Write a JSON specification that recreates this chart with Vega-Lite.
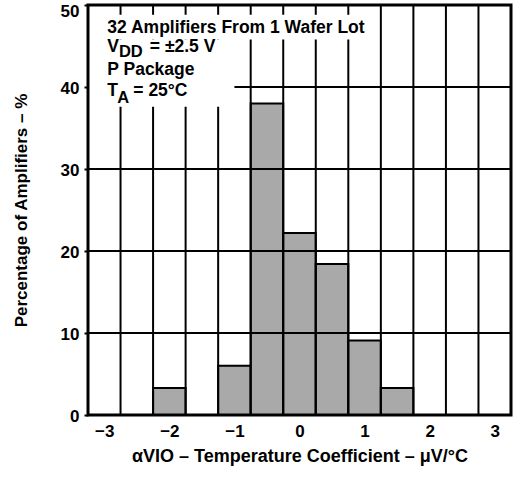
{
  "$schema": "https://vega.github.io/schema/vega-lite/v6.json",
  "width": 423,
  "height": 410,
  "autosize": {"type": "none"},
  "padding": {"left": 88, "top": 5, "right": 2, "bottom": 63},
  "background": "white",
  "config": {
    "view": {"stroke": null},
    "font": "Liberation Sans",
    "axis": {
      "labelFont": "Liberation Sans",
      "labelFontWeight": "bold",
      "labelFontSize": 17,
      "labelColor": "black",
      "titleFont": "Liberation Sans",
      "titleFontWeight": "bold",
      "titleFontSize": 17,
      "titleColor": "black",
      "tickColor": "black",
      "tickWidth": 2,
      "domain": false
    }
  },
  "layer": [
    {
      "data": {"values": [
        {"lo": -2.25, "hi": -1.75, "pct": 3.3},
        {"lo": -1.25, "hi": -0.75, "pct": 6.0},
        {"lo": -0.75, "hi": -0.25, "pct": 38.0},
        {"lo": -0.25, "hi": 0.25, "pct": 22.2},
        {"lo": 0.25, "hi": 0.75, "pct": 18.4},
        {"lo": 0.75, "hi": 1.25, "pct": 9.1},
        {"lo": 1.25, "hi": 1.75, "pct": 3.3}
      ]},
      "mark": {"type": "rect", "fill": "#a9a9a9", "stroke": "#000000", "strokeWidth": 2},
      "encoding": {
        "x": {"field": "lo", "type": "quantitative",
              "scale": {"domain": [-3.25, 3.25], "nice": false, "zero": false},
              "axis": {"orient": "bottom", "values": [-3, -2, -1, 0, 1, 2, 3], "format": "d", "grid": false, "ticks": false, "tickSize": 0, "labelPadding": 8,
                       "title": "αVIO – Temperature Coefficient – μV/°C", "titlePadding": 8, "titleFontSize": 18}},
        "x2": {"field": "hi"},
        "y": {"field": "pct", "type": "quantitative",
              "scale": {"domain": [0, 50], "nice": false},
              "axis": {"orient": "left", "values": [0, 10, 20, 30, 40, 50], "format": "d", "grid": false, "tickSize": 4, "labelPadding": 5,
                       "labelOffset": {"condition": {"test": "datum.value === 50", "value": 6}, "value": 1},
                       "title": "Percentage of Amplifiers – %", "titlePadding": 30}},
        "y2": {"datum": 0}
      }
    },
    {
      "data": {"values": [{"level": 10}, {"level": 20}, {"level": 30}, {"level": 40}]},
      "mark": {"type": "rule", "stroke": "#000000", "strokeWidth": 2},
      "encoding": {
        "y": {"field": "level", "type": "quantitative"}
      }
    },
    {
      "data": {"values": [{"edge": -2.75}, {"edge": -2.25}, {"edge": -1.75}, {"edge": -1.25}, {"edge": -0.75}, {"edge": -0.25}, {"edge": 0.25}, {"edge": 0.75}, {"edge": 1.25}, {"edge": 1.75}, {"edge": 2.25}, {"edge": 2.75}]},
      "mark": {"type": "rule", "stroke": "#000000", "strokeWidth": 2},
      "encoding": {
        "x": {"field": "edge", "type": "quantitative"}
      }
    },
    {
      "data": {"values": [{}]},
      "mark": {"type": "rect", "fill": "white", "strokeWidth": 0},
      "encoding": {
        "x": {"datum": -3.24, "type": "quantitative"},
        "x2": {"datum": 1.0},
        "y": {"datum": 45.8, "type": "quantitative"},
        "y2": {"datum": 48.8}
      }
    },
    {
      "data": {"values": [{}]},
      "mark": {"type": "rect", "fill": "white", "strokeWidth": 0},
      "encoding": {
        "x": {"datum": -3.24, "type": "quantitative"},
        "x2": {"datum": -1.0},
        "y": {"datum": 37.6, "type": "quantitative"},
        "y2": {"datum": 45.8}
      }
    },
    {
      "data": {"values": [{}]},
      "mark": {"type": "text", "text": "32 Amplifiers From 1 Wafer Lot", "align": "left", "baseline": "alphabetic", "font": "Liberation Sans", "fontWeight": "bold", "fontSize": 17.5, "color": "black"},
      "encoding": {"x": {"datum": -2.954, "type": "quantitative"}, "y": {"datum": 46.6, "type": "quantitative"}}
    },
    {
      "data": {"values": [{}]},
      "mark": {"type": "text", "text": "V", "align": "left", "baseline": "alphabetic", "font": "Liberation Sans", "fontWeight": "bold", "fontSize": 17.5, "color": "black"},
      "encoding": {"x": {"datum": -2.954, "type": "quantitative"}, "y": {"datum": 44.3, "type": "quantitative"}}
    },
    {
      "data": {"values": [{}]},
      "mark": {"type": "text", "text": "DD", "align": "left", "baseline": "alphabetic", "font": "Liberation Sans", "fontWeight": "bold", "fontSize": 16.5, "color": "black"},
      "encoding": {"x": {"datum": -2.775, "type": "quantitative"}, "y": {"datum": 43.7, "type": "quantitative"}}
    },
    {
      "data": {"values": [{}]},
      "mark": {"type": "text", "text": "= ±2.5 V", "align": "left", "baseline": "alphabetic", "font": "Liberation Sans", "fontWeight": "bold", "fontSize": 17.5, "color": "black"},
      "encoding": {"x": {"datum": -2.30, "type": "quantitative"}, "y": {"datum": 44.3, "type": "quantitative"}}
    },
    {
      "data": {"values": [{}]},
      "mark": {"type": "text", "text": "P Package", "align": "left", "baseline": "alphabetic", "font": "Liberation Sans", "fontWeight": "bold", "fontSize": 17.5, "color": "black"},
      "encoding": {"x": {"datum": -2.954, "type": "quantitative"}, "y": {"datum": 41.5, "type": "quantitative"}}
    },
    {
      "data": {"values": [{}]},
      "mark": {"type": "text", "text": "T", "align": "left", "baseline": "alphabetic", "font": "Liberation Sans", "fontWeight": "bold", "fontSize": 17.5, "color": "black"},
      "encoding": {"x": {"datum": -2.954, "type": "quantitative"}, "y": {"datum": 38.9, "type": "quantitative"}}
    },
    {
      "data": {"values": [{}]},
      "mark": {"type": "text", "text": "A", "align": "left", "baseline": "alphabetic", "font": "Liberation Sans", "fontWeight": "bold", "fontSize": 16.5, "color": "black"},
      "encoding": {"x": {"datum": -2.80, "type": "quantitative"}, "y": {"datum": 38.1, "type": "quantitative"}}
    },
    {
      "data": {"values": [{}]},
      "mark": {"type": "text", "text": "= 25°C", "align": "left", "baseline": "alphabetic", "font": "Liberation Sans", "fontWeight": "bold", "fontSize": 17.5, "color": "black"},
      "encoding": {"x": {"datum": -2.554, "type": "quantitative"}, "y": {"datum": 38.9, "type": "quantitative"}}
    },
    {
      "data": {"values": [{}]},
      "mark": {"type": "rect", "fill": "transparent", "stroke": "#000000", "strokeWidth": 3},
      "encoding": {
        "x": {"datum": -3.25, "type": "quantitative"},
        "x2": {"datum": 3.25},
        "y": {"datum": 0, "type": "quantitative"},
        "y2": {"datum": 50}
      }
    }
  ]
}
